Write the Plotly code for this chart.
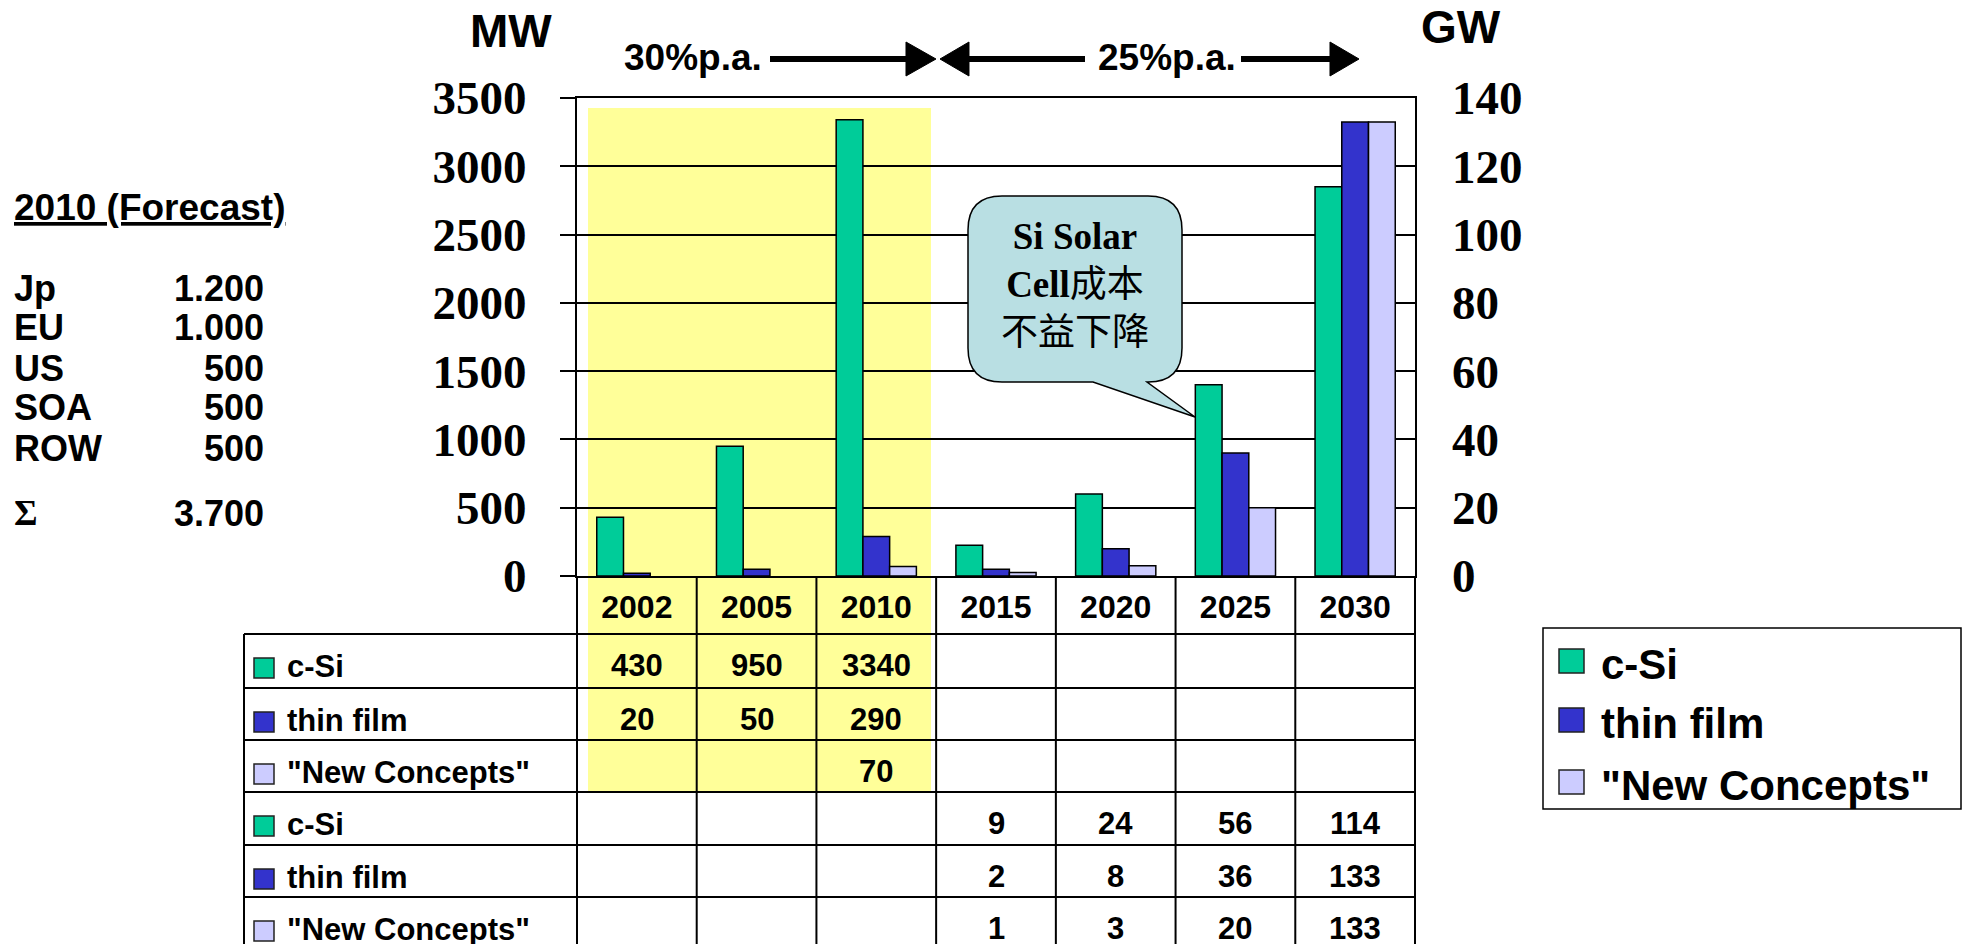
import plotly.graph_objects as go

W, H = 1963, 944

# ---- data -------------------------------------------------------------
years = ["2002", "2005", "2010", "2015", "2020", "2025", "2030"]
series_names = ["c-Si", "thin film", '"New Concepts"']
series_colors = ["#00CC99", "#3333CC", "#CCCCFF"]

# installed production, MW (2002 - 2010)
mw_years = ["2002", "2005", "2010"]
csi_mw = [430, 950, 3340]
thin_mw = [20, 50, 290]
new_mw = [None, None, 70]

# installed production, GW (2015 - 2030)
gw_years = ["2015", "2020", "2025", "2030"]
csi_gw = [9, 24, 56, 114]
thin_gw = [2, 8, 36, 133]
new_gw = [1, 3, 20, 133]

# 2010 forecast by region, MW
regions = ["Jp", "EU", "US", "SOA", "ROW"]
forecast_2010 = [1200, 1000, 500, 500, 500]

mw_ticks = [0, 500, 1000, 1500, 2000, 2500, 3000, 3500]
gw_ticks = [0, 20, 40, 60, 80, 100, 120, 140]

# ---- page geometry (pixels) ------------------------------------------
PLOT_L, PLOT_R, PLOT_T, PLOT_B = 577, 1415, 98, 576
TABLE_L = 244
ROW_EDGES = [634, 688, 740, 792, 845, 897, 949]

SANS = "Liberation Sans, Arial, sans-serif"
SERIF = "Liberation Serif, Times New Roman, serif"
CJK = "Liberation Serif, Noto Sans CJK TC, serif"


def px(x):
    return x / W


def py(y):
    return 1 - y / H


def P(x, y):
    return f"{px(x):.6f},{py(y):.6f}"


def fmt_de(v):
    return f"{v:,}".replace(",", ".")


def font(size, family=SANS, weight="bold", color="black"):
    return dict(family=family, size=size, weight=weight, color=color)


fig = go.Figure()

mw_series = [csi_mw, thin_mw, new_mw]
gw_series = [csi_gw, thin_gw, new_gw]
for k, (name, color) in enumerate(zip(series_names, series_colors)):
    fig.add_trace(go.Bar(
        x=mw_years, y=mw_series[k], name=name, yaxis="y",
        offsetgroup=str(k), showlegend=False,
        marker=dict(color=color, line=dict(color="black", width=1.5)),
    ))
for k, (name, color) in enumerate(zip(series_names, series_colors)):
    fig.add_trace(go.Bar(
        x=gw_years, y=gw_series[k], name=name, yaxis="y2",
        offsetgroup=str(k), showlegend=False,
        marker=dict(color=color, line=dict(color="black", width=1.5)),
    ))

shapes = []
annotations = []

# highlighted historic period (2002 - 2010)
shapes.append(dict(type="rect", xref="paper", yref="paper",
                   x0=px(588), x1=px(931), y0=py(791.5), y1=py(108),
                   fillcolor="#FFFF99", line=dict(width=0), layer="below"))

# ---- data table under the chart ---------------------------------------
LINE = dict(color="black", width=2)
for y in ROW_EDGES[:-1]:
    shapes.append(dict(type="line", xref="paper", yref="paper",
                       x0=px(TABLE_L), x1=px(PLOT_R), y0=py(y), y1=py(y),
                       line=LINE, layer="above"))
shapes.append(dict(type="line", xref="paper", yref="paper",
                   x0=px(TABLE_L), x1=px(TABLE_L), y0=py(ROW_EDGES[0]), y1=py(H + 5),
                   line=LINE, layer="above"))
for xe in (PLOT_L, PLOT_R):
    shapes.append(dict(type="line", xref="paper", yref="paper",
                       x0=px(xe), x1=px(xe), y0=py(PLOT_B), y1=py(H + 5),
                       line=LINE, layer="above"))
for i in range(len(years) - 1):
    shapes.append(dict(type="line", xref="x", yref="paper",
                       x0=i + 0.5, x1=i + 0.5, y0=py(PLOT_B), y1=py(H + 5),
                       line=LINE, layer="above"))

table_rows = [
    (0, mw_years, csi_mw), (1, mw_years, thin_mw), (2, mw_years, new_mw),
    (0, gw_years, csi_gw), (1, gw_years, thin_gw), (2, gw_years, new_gw),
]
for r, (k, yrs, vals) in enumerate(table_rows):
    top = ROW_EDGES[r]
    shapes.append(dict(type="rect", xref="paper", yref="paper",
                       x0=px(254), x1=px(274), y0=py(top + 44), y1=py(top + 24),
                       fillcolor=series_colors[k],
                       line=dict(color="#222222", width=1.5), layer="above"))
    annotations.append(dict(text=series_names[k], xref="paper", yref="paper",
                            x=px(285), y=py(top + 32), xanchor="left", yanchor="middle",
                            showarrow=False, font=font(31)))
    for yr, v in zip(yrs, vals):
        if v is None:
            continue
        annotations.append(dict(text=str(v), xref="x", yref="paper",
                                x=years.index(yr), y=py(top + 31),
                                xanchor="center", yanchor="middle",
                                showarrow=False, font=font(31)))

# ---- legend box --------------------------------------------------------
shapes.append(dict(type="rect", xref="paper", yref="paper",
                   x0=px(1543), x1=px(1961), y0=py(809), y1=py(628),
                   fillcolor="white", line=dict(color="black", width=1.5), layer="above"))
legend_rows = [661, 720, 782]
for k, yc in enumerate(legend_rows):
    shapes.append(dict(type="rect", xref="paper", yref="paper",
                       x0=px(1559), x1=px(1584), y0=py(yc + 12), y1=py(yc - 12),
                       fillcolor=series_colors[k],
                       line=dict(color="#222222", width=1.5), layer="above"))
    annotations.append(dict(text=series_names[k], xref="paper", yref="paper",
                            x=px(1599), y=py(yc + 3), xanchor="left", yanchor="middle",
                            showarrow=False, font=font(42)))

# ---- 2010 forecast block ----------------------------------------------
annotations.append(dict(text="<u>2010 (Forecast)</u>", xref="paper", yref="paper",
                        x=px(12), y=py(208), xanchor="left", yanchor="middle",
                        showarrow=False, font=font(37)))
region_y = [288, 328, 368, 408, 448]
for name, v, yc in zip(regions, forecast_2010, region_y):
    annotations.append(dict(text=name, xref="paper", yref="paper",
                            x=px(12), y=py(yc), xanchor="left", yanchor="middle",
                            showarrow=False, font=font(36)))
    annotations.append(dict(text=fmt_de(v), xref="paper", yref="paper",
                            x=px(266), y=py(yc), xanchor="right", yanchor="middle",
                            showarrow=False, font=font(36)))
annotations.append(dict(text="Σ", xref="paper", yref="paper",
                        x=px(12), y=py(513), xanchor="left", yanchor="middle",
                        showarrow=False, font=font(36, family=SERIF)))
annotations.append(dict(text=fmt_de(sum(forecast_2010)), xref="paper", yref="paper",
                        x=px(266), y=py(513), xanchor="right", yanchor="middle",
                        showarrow=False, font=font(36)))

# ---- axis units ---------------------------------------------------------
annotations.append(dict(text="MW", xref="paper", yref="paper", x=px(511), y=py(31),
                        xanchor="center", yanchor="middle", showarrow=False, font=font(46)))
annotations.append(dict(text="GW", xref="paper", yref="paper", x=px(1461), y=py(27),
                        xanchor="center", yanchor="middle", showarrow=False, font=font(46)))

# ---- growth-rate arrows -------------------------------------------------
AY = 59
annotations.append(dict(text="30%p.a.", xref="paper", yref="paper", x=px(693), y=py(AY - 2),
                        xanchor="center", yanchor="middle", showarrow=False, font=font(37)))
annotations.append(dict(text="25%p.a.", xref="paper", yref="paper", x=px(1167), y=py(AY - 2),
                        xanchor="center", yanchor="middle", showarrow=False, font=font(37)))
for x0, x1 in [(770, 908), (967, 1085), (1241, 1332)]:
    shapes.append(dict(type="line", xref="paper", yref="paper",
                       x0=px(x0), x1=px(x1), y0=py(AY), y1=py(AY),
                       line=dict(color="black", width=6), layer="above"))
for base, tip in [(906, 936), (969, 940), (1330, 1359)]:
    shapes.append(dict(type="path", xref="paper", yref="paper",
                       path=f"M{P(base, AY - 17)} L{P(tip, AY)} L{P(base, AY + 17)} Z",
                       fillcolor="black", line=dict(color="black", width=1), layer="above"))

# ---- speech bubble ------------------------------------------------------
L, R, T, B, r = 968, 1182, 196, 382, 34
bubble = (f"M{P(L + r, T)} L{P(R - r, T)} Q{P(R, T)} {P(R, T + r)} "
          f"L{P(R, B - r)} Q{P(R, B)} {P(R - r, B)} L{P(1147, B)} L{P(1195, 417)} "
          f"L{P(1093, B)} L{P(L + r, B)} Q{P(L, B)} {P(L, B - r)} "
          f"L{P(L, T + r)} Q{P(L, T)} {P(L + r, T)} Z")
shapes.append(dict(type="path", xref="paper", yref="paper", path=bubble,
                   fillcolor="#B9DFE3", line=dict(color="black", width=1.5), layer="above"))
annotations.append(dict(text="<b>Si Solar</b><br><b>Cell</b>成本<br>不益下降",
                        xref="paper", yref="paper", x=px(1075), y=py(285),
                        xanchor="center", yanchor="middle", showarrow=False,
                        font=dict(family=CJK, size=37, color="black", weight="normal")))

fig.update_layout(
    template="none",
    width=W, height=H, autosize=False,
    margin=dict(l=0, r=0, t=0, b=0, pad=0),
    paper_bgcolor="white", plot_bgcolor="rgba(0,0,0,0)",
    barmode="group", bargap=0.33, bargroupgap=0,
    showlegend=False,
    xaxis=dict(
        domain=[px(PLOT_L), px(PLOT_R)], type="category",
        categoryorder="array", categoryarray=years, range=[-0.5, 6.5],
        showline=True, linecolor="black", linewidth=2, mirror=True,
        ticks="", showgrid=False, zeroline=False,
        tickfont=font(32), ticklabelstandoff=2, automargin=False,
    ),
    yaxis=dict(
        domain=[py(PLOT_B), py(PLOT_T)], range=[0, 3500], tickvals=mw_ticks,
        showline=True, linecolor="black", linewidth=2, mirror=True,
        ticks="outside", ticklen=15, tickwidth=2, tickcolor="black",
        showgrid=True, gridcolor="black", gridwidth=2, zeroline=False,
        tickfont=font(47, family=SERIF), ticklabelstandoff=24, automargin=False,
    ),
    yaxis2=dict(
        overlaying="y", side="right", range=[0, 140], tickvals=gw_ticks,
        showline=False, ticks="", showgrid=False, zeroline=False,
        tickfont=font(47, family=SERIF), ticklabelstandoff=36, automargin=False,
    ),
    shapes=shapes,
    annotations=annotations,
)

fig.write_html("out.html")
